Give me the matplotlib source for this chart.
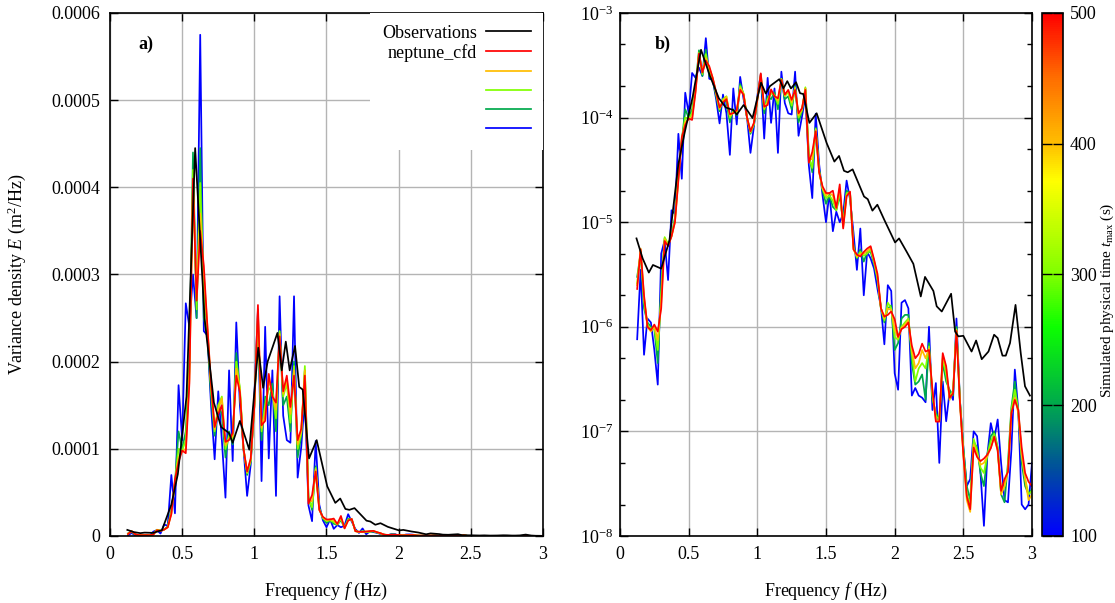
import numpy as np
import matplotlib
matplotlib.use("Agg")
import matplotlib.pyplot as plt
from matplotlib.colors import LinearSegmentedColormap, Normalize
from matplotlib.cm import ScalarMappable
from matplotlib.ticker import FixedLocator, LogLocator, NullFormatter, NullLocator

plt.rcParams['font.family'] = ['Liberation Serif', 'DejaVu Serif']
plt.rcParams['mathtext.fontset'] = 'custom'
plt.rcParams['mathtext.rm'] = 'Liberation Serif'
plt.rcParams['mathtext.it'] = 'Liberation Serif:italic'
plt.rcParams['mathtext.bf'] = 'Liberation Serif:bold'

# ---------------- data (variance density in units of 1e-6 m^2/Hz) ----------------
# simulation frequency grid (Hz)
sim_freq = np.round(np.arange(0.125, 3.0001, 0.025), 3)

# neptune_cfd, t_max = 500 s
sim_500 = [2.3, 5.5, 2.0, 1.0, 0.93, 1.05, 0.9, 1.5, 6.6, 5.9,
           7.3, 10, 25, 65, 85, 98, 95, 175, 410, 270,
           350, 310, 240, 175, 125, 140, 150, 108, 110, 118,
           184, 165, 100, 74, 89, 148, 265, 127, 132, 186,
           160, 153, 229, 166, 184, 148, 184, 110, 123, 184,
           37, 47, 74, 30, 22, 19, 19, 20, 13.7, 23,
           8.7, 17.7, 19.6, 5.5, 4.9, 4.7, 5.2, 5.6, 5.9, 4.4,
           3.2, 1.5, 1.25, 1.3, 1.4, 1.18, 0.8, 0.95, 1.0, 1.1,
           0.66, 0.5, 0.55, 0.69, 0.58, 0.60, 0.25, 0.124, 0.124, 0.56,
           0.42, 0.21, 0.23, 0.91, 0.19, 0.06, 0.024, 0.018, 0.07, 0.057,
           0.052, 0.055, 0.06, 0.069, 0.089, 0.066, 0.027, 0.035, 0.041, 0.15,
           0.2, 0.16, 0.07, 0.04, 0.033, 0.03]

# t_max = 400 s
sim_400 = [2.5, 5.6, 1.9, 1.0, 0.9, 1.0, 0.75, 1.7, 6.9, 6.0,
           7.3, 10, 26, 63, 90, 97, 100, 180, 400, 280,
           370, 300, 240, 172, 122, 145, 158, 104, 112, 114,
           192, 168, 100, 73, 88, 149, 258, 124, 140, 180,
           162, 145, 232, 163, 180, 140, 190, 105, 120, 190,
           40, 40, 76, 30, 21, 18, 19, 18, 13.5, 21,
           9, 18, 19.3, 5.5, 4.7, 5.0, 5.0, 5.3, 5.7, 4.3,
           3.0, 1.5, 1.2, 1.5, 1.45, 0.95, 0.78, 0.98, 1.05, 1.15,
           0.6, 0.4, 0.45, 0.6, 0.5, 0.62, 0.24, 0.13, 0.125, 0.53,
           0.4, 0.2, 0.24, 0.93, 0.19, 0.06, 0.022, 0.017, 0.075, 0.06,
           0.048, 0.05, 0.058, 0.07, 0.088, 0.065, 0.025, 0.03, 0.042, 0.15,
           0.21, 0.15, 0.06, 0.035, 0.022, 0.025]

# t_max = 300 s
sim_300 = [2.6, 5.3, 1.8, 1.05, 0.95, 1.0, 0.6, 2.0, 7.2, 6.2,
           7.4, 10.5, 27, 62, 100, 98, 110, 190, 420, 260,
           405, 280, 235, 170, 120, 150, 160, 100, 115, 110,
           200, 170, 100, 72, 86, 150, 250, 120, 150, 170,
           165, 135, 235, 160, 175, 130, 195, 100, 118, 195,
           42, 33, 78, 31, 21, 17, 18, 16, 13, 20,
           9.5, 19, 19, 5.7, 4.6, 5.2, 4.8, 5.0, 5.5, 4.2,
           2.9, 1.5, 1.15, 1.7, 1.5, 0.8, 0.75, 1.0, 1.1, 1.2,
           0.55, 0.3, 0.4, 0.45, 0.4, 0.65, 0.22, 0.14, 0.13, 0.5,
           0.35, 0.22, 0.24, 0.95, 0.2, 0.065, 0.025, 0.02, 0.085, 0.065,
           0.045, 0.04, 0.06, 0.08, 0.095, 0.07, 0.026, 0.03, 0.045, 0.16,
           0.25, 0.16, 0.06, 0.035, 0.025, 0.027]

# t_max = 200 s
sim_200 = [3.0, 5.0, 1.5, 1.1, 1.0, 0.95, 0.45, 2.5, 7.0, 6.0,
           7.5, 11, 30, 60, 120, 100, 120, 200, 440, 250,
           445, 250, 230, 160, 115, 150, 140, 90, 120, 105,
           210, 165, 100, 70, 85, 150, 245, 110, 160, 150,
           175, 120, 235, 150, 160, 120, 200, 90, 115, 190,
           45, 30, 80, 32, 20, 15, 18, 14, 13, 18,
           10, 20, 19, 6, 4.5, 5.5, 4.2, 5.2, 5.2, 4.0,
           2.8, 1.5, 1.1, 1.5, 1.6, 0.6, 0.7, 1.2, 1.3, 1.3,
           0.45, 0.28, 0.3, 0.35, 0.20, 0.7, 0.2, 0.15, 0.13, 0.45,
           0.30, 0.25, 0.22, 1.0, 0.2, 0.07, 0.03, 0.022, 0.08, 0.07,
           0.04, 0.03, 0.06, 0.09, 0.1, 0.07, 0.025, 0.021, 0.05, 0.17,
           0.3, 0.15, 0.05, 0.03, 0.025, 0.028]

# t_max = 100 s
sim_100 = [0.76, 3.5, 0.54, 1.2, 1.1, 0.6, 0.28, 5.0, 6.7, 2.8,
           13, 12, 70, 26, 173, 110, 267, 240, 300, 250,
           575, 235, 230, 150, 88, 166, 110, 44, 190, 86,
           245, 150, 100, 46, 82, 160, 260, 63, 240, 89,
           190, 46, 275, 138, 110, 107, 275, 67, 102, 160,
           35, 17, 109, 36, 18, 10, 19, 8.2, 12.6, 10,
           12, 25, 16.5, 8, 3.5, 8.7, 2.0, 5.2, 4.5, 3.6,
           2.3, 1.55, 0.68, 2.5, 2.2, 0.36, 0.25, 1.7, 1.8, 1.5,
           0.22, 0.26, 0.22, 0.21, 0.19, 1.0, 0.16, 0.29, 0.05, 0.30,
           0.125, 0.24, 0.20, 1.2, 0.2, 0.07, 0.03, 0.035, 0.10, 0.09,
           0.04, 0.0125, 0.06, 0.12, 0.085, 0.13, 0.05, 0.022, 0.021, 0.067,
           0.39, 0.16, 0.02, 0.018, 0.02, 0.05]

# observations
obs_freq = [0.12, 0.165, 0.21, 0.24, 0.30, 0.36, 0.425, 0.47, 0.53, 0.59,
            0.655, 0.72, 0.77, 0.825, 0.85, 0.90, 0.965, 1.027, 1.061, 1.092,
            1.16, 1.19, 1.218, 1.245, 1.282, 1.311, 1.335, 1.379, 1.432, 1.505,
            1.561, 1.595, 1.631, 1.658, 1.694, 1.777, 1.804, 1.838, 1.874, 1.925,
            2.003, 2.032, 2.088, 2.136, 2.19, 2.221, 2.282, 2.306, 2.343, 2.411,
            2.44, 2.464, 2.50, 2.56, 2.593, 2.634, 2.683, 2.724, 2.75, 2.785,
            2.809, 2.84, 2.88, 2.918, 2.949, 2.985]
obs_E = [7.0, 4.5, 3.3, 3.9, 3.6, 6.7, 36, 71, 160, 445,
         250, 153, 125, 118, 107, 132, 99, 216, 170, 200,
         233, 190, 223, 190, 218, 171, 168, 89, 110, 57,
         38, 43, 31, 30, 32, 17.6, 16.6, 12.9, 14.7, 10.5,
         6.4, 7.0, 5.2, 4.0, 1.95, 3.0, 2.2, 1.57, 1.4, 2.07,
         0.9, 0.81, 0.82, 0.58, 0.74, 0.49, 0.58, 0.84, 0.78, 0.53,
         0.53, 0.70, 1.62, 0.56, 0.27, 0.22]

t_max_values = [100, 200, 300, 400, 500]
x_ticks = [0, 0.5, 1, 1.5, 2, 2.5, 3]
x_ticklabels = ['0', '0.5', '1', '1.5', '2', '2.5', '3']
lin_yticks = [0, 0.0001, 0.0002, 0.0003, 0.0004, 0.0005, 0.0006]
lin_yticklabels = ['0', '0.0001', '0.0002', '0.0003', '0.0004', '0.0005', '0.0006']
cb_ticks = [100, 200, 300, 400, 500]

SCALE = 1e-6
sims = {100: sim_100, 200: sim_200, 300: sim_300, 400: sim_400, 500: sim_500}

# ---------------- style ----------------
cmap = LinearSegmentedColormap.from_list('tmax', [
    (0.00, (0.0, 0.0, 1.0)),
    (0.125, (0.0, 0.30, 0.62)),
    (0.25, (0.0, 0.66, 0.30)),
    (0.40, (0.05, 1.0, 0.0)),
    (0.50, (0.50, 1.0, 0.0)),
    (0.68, (1.0, 1.0, 0.0)),
    (0.75, (1.0, 0.75, 0.0)),
    (0.88, (1.0, 0.42, 0.0)),
    (1.00, (1.0, 0.0, 0.0)),
])
norm = Normalize(vmin=100, vmax=500)

FS = 13
W, H = 1115, 603
fig = plt.figure(figsize=(W / 100, H / 100), dpi=100)

def fr(x0, y0, x1, y1):
    return [x0 / W, 1 - y1 / H, (x1 - x0) / W, (y1 - y0) / H]

ax1 = fig.add_axes(fr(110, 13, 543, 536))
ax2 = fig.add_axes(fr(620, 13, 1032, 536))
cax = fig.add_axes(fr(1042, 13, 1063, 536))

LW = 1.25
for ax in (ax1, ax2):
    lines = {}
    for t in t_max_values:
        ln, = ax.plot(sim_freq, np.array(sims[t]) * SCALE, color=cmap(norm(t)), lw=LW)
        lines[t] = ln
    lobs, = ax.plot(obs_freq, np.array(obs_E) * SCALE, color='black', lw=LW)
    ax.set_xlim(0, 3)
    ax.xaxis.set_major_locator(FixedLocator(x_ticks))
    ax.set_xticklabels(x_ticklabels)
    ax.grid(True, which='major', color='#b4b4b4', lw=1.0)
    ax.set_axisbelow(True)
    for s in ax.spines.values():
        s.set_linewidth(1.2)
    ax.tick_params(which='both', direction='in', top=True, right=True, labelsize=FS, width=1.0)
    ax.tick_params(which='major', length=6, pad=7)
    ax.tick_params(which='minor', length=3.5)
    ax.set_xlabel('Frequency $f$ (Hz)', fontsize=FS)
    ax.xaxis.set_label_coords(0.5, -0.085)
    if ax is ax1:
        handles = [lobs, lines[500], lines[400], lines[300], lines[200], lines[100]]

ax1.set_ylim(0, 0.0006)
ax1.yaxis.set_major_locator(FixedLocator(lin_yticks))
ax1.set_yticklabels(lin_yticklabels)
ax1.set_ylabel('Variance density $E$ (m$^2$/Hz)', fontsize=FS)
ax1.yaxis.set_label_coords(-0.19, 0.5)

ax2.set_yscale('log')
ax2.set_ylim(1e-8, 1e-3)
ax2.yaxis.set_major_locator(LogLocator(base=10, numticks=20))
ax2.yaxis.set_minor_locator(LogLocator(base=10, subs=(2.0, 5.0), numticks=20))
ax2.yaxis.set_minor_formatter(NullFormatter())
ax2.set_yticks([1e-8, 1e-7, 1e-6, 1e-5, 1e-4, 1e-3])
ax2.set_yticklabels(['10$^{-8}$', '10$^{-7}$', '10$^{-6}$', '10$^{-5}$', '10$^{-4}$', '10$^{-3}$'])
ax2.tick_params(axis='y', which='major', pad=5)

ax1.text(0.065, 0.94, 'a)', transform=ax1.transAxes, fontsize=FS, fontweight='bold',
         ha='left', va='center')
ax2.text(0.085, 0.94, 'b)', transform=ax2.transAxes, fontsize=FS, fontweight='bold',
         ha='left', va='center')

leg = ax1.legend(handles, ['Observations', 'neptune_cfd', '', '', '', ''],
                 loc='upper right', markerfirst=False, frameon=True, framealpha=1,
                 facecolor='white', edgecolor='none', fancybox=False,
                 borderaxespad=0.0, borderpad=0.65, handlelength=2.5,
                 handletextpad=0.5, labelspacing=0.12, fontsize=FS)
for txt in leg.get_texts():
    txt.set_ha('right')

sm = ScalarMappable(norm=norm, cmap=cmap)
cb = fig.colorbar(sm, cax=cax, ticks=cb_ticks)
cb.outline.set_linewidth(1.2)
cax.tick_params(axis='y', which='major', direction='in', left=True, right=True,
                length=7, width=1.0, labelsize=FS, pad=5, color='black')
cax.yaxis.set_minor_locator(NullLocator())
cb.set_label('Simulated physical time $t_{\\mathrm{max}}$ (s)', fontsize=11)
cax.yaxis.set_label_coords(2.68, 0.45)

fig.savefig('out.png', dpi=100)
